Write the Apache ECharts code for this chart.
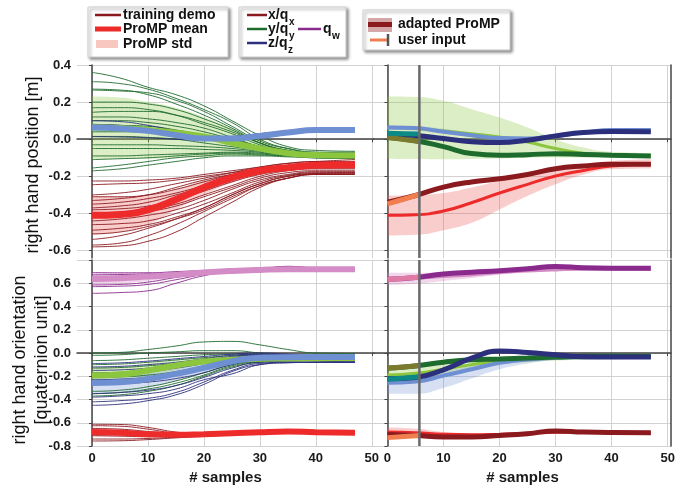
<!DOCTYPE html>
<html><head><meta charset="utf-8">
<script src="https://cdn.jsdelivr.net/npm/echarts@6/dist/echarts.min.js"></script>
<style>html,body{margin:0;padding:0;background:#fff}#c{width:687px;height:491px}</style>
</head><body><div id="c"></div>
<script>
// ---------- DATA ----------
const sampleX = [0, 5, 10, 15, 20, 25, 30, 35, 40, 47];
const xTicks = [0, 10, 20, 30, 40, 50];
const yTicksPos = [-0.6, -0.4, -0.2, 0.0, 0.2, 0.4];
const yTicksOri = [-0.8, -0.6, -0.4, -0.2, 0.0, 0.2, 0.4, 0.6, 0.8];
const yLabelsOri = [-0.8, -0.6, -0.4, -0.2, 0.0, 0.2, 0.4, 0.6];
const cutX = 5.7;
const userX = [0, 3, 5.7];

// position demos
const posXDemos = [
 [-0.225,-0.225,-0.22,-0.21,-0.19,-0.17,-0.15,-0.13,-0.12,-0.11],
 [-0.245,-0.24,-0.235,-0.22,-0.2,-0.18,-0.16,-0.145,-0.135,-0.13],
 [-0.30,-0.29,-0.27,-0.24,-0.21,-0.18,-0.15,-0.13,-0.12,-0.12],
 [-0.31,-0.31,-0.3,-0.27,-0.23,-0.19,-0.16,-0.14,-0.13,-0.13],
 [-0.33,-0.32,-0.3,-0.26,-0.22,-0.19,-0.165,-0.15,-0.14,-0.14],
 [-0.35,-0.34,-0.32,-0.29,-0.25,-0.21,-0.175,-0.155,-0.145,-0.145],
 [-0.37,-0.36,-0.34,-0.3,-0.26,-0.22,-0.18,-0.16,-0.15,-0.15],
 [-0.38,-0.375,-0.36,-0.33,-0.28,-0.23,-0.19,-0.165,-0.155,-0.155],
 [-0.40,-0.395,-0.38,-0.35,-0.30,-0.25,-0.2,-0.17,-0.16,-0.16],
 [-0.42,-0.41,-0.39,-0.36,-0.31,-0.26,-0.21,-0.18,-0.17,-0.17],
 [-0.44,-0.43,-0.41,-0.38,-0.33,-0.27,-0.22,-0.19,-0.175,-0.175],
 [-0.46,-0.455,-0.44,-0.4,-0.35,-0.29,-0.23,-0.195,-0.18,-0.18],
 [-0.49,-0.48,-0.46,-0.42,-0.37,-0.3,-0.24,-0.2,-0.185,-0.185],
 [-0.51,-0.5,-0.47,-0.43,-0.38,-0.31,-0.25,-0.21,-0.19,-0.19],
 [-0.54,-0.52,-0.48,-0.43,-0.37,-0.3,-0.24,-0.2,-0.185,-0.18],
 [-0.57,-0.56,-0.52,-0.46,-0.39,-0.32,-0.25,-0.21,-0.19,-0.19],
 [-0.58,-0.575,-0.55,-0.5,-0.42,-0.34,-0.26,-0.21,-0.19,-0.19]
];
const posYDemos = [
 [0.36,0.33,0.28,0.24,0.18,0.10,0.02,-0.04,-0.06,-0.065],
 [0.31,0.30,0.27,0.22,0.16,0.09,0.00,-0.05,-0.07,-0.07],
 [0.265,0.26,0.25,0.21,0.15,0.07,-0.01,-0.05,-0.07,-0.075],
 [0.27,0.265,0.24,0.19,0.13,0.06,-0.02,-0.06,-0.075,-0.08],
 [0.20,0.20,0.19,0.16,0.11,0.05,-0.02,-0.06,-0.08,-0.08],
 [0.17,0.17,0.16,0.13,0.08,0.03,-0.03,-0.07,-0.085,-0.09],
 [0.145,0.15,0.15,0.13,0.09,0.04,-0.02,-0.065,-0.08,-0.085],
 [0.12,0.12,0.11,0.09,0.06,0.01,-0.04,-0.075,-0.09,-0.09],
 [0.10,0.10,0.09,0.07,0.04,0.00,-0.04,-0.08,-0.09,-0.095],
 [0.08,0.075,0.07,0.05,0.02,-0.01,-0.05,-0.08,-0.095,-0.1],
 [0.04,0.04,0.035,0.02,0.0,-0.02,-0.05,-0.07,-0.08,-0.085],
 [0.015,0.015,0.01,0.0,-0.02,-0.04,-0.06,-0.08,-0.09,-0.09],
 [-0.03,-0.03,-0.03,-0.035,-0.04,-0.05,-0.065,-0.08,-0.09,-0.09],
 [-0.05,-0.05,-0.05,-0.05,-0.055,-0.06,-0.07,-0.085,-0.095,-0.1],
 [-0.09,-0.09,-0.085,-0.08,-0.075,-0.07,-0.075,-0.085,-0.095,-0.1],
 [-0.11,-0.105,-0.1,-0.09,-0.08,-0.075,-0.08,-0.09,-0.1,-0.1],
 [-0.155,-0.14,-0.12,-0.1,-0.09,-0.08,-0.085,-0.09,-0.1,-0.105],
 [-0.17,-0.16,-0.14,-0.12,-0.1,-0.09,-0.09,-0.095,-0.1,-0.105]
];
const posZDemos = [
 [0.10,0.095,0.075,0.045,0.02,0.015,0.025,0.04,0.05,0.05],
 [0.014,0.012,0.008,0.0,-0.005,-0.002,0.01,0.03,0.045,0.045],
 [0.07,0.065,0.05,0.03,0.012,0.015,0.03,0.045,0.055,0.055],
 [0.055,0.05,0.04,0.02,0.0,0.0,0.012,0.03,0.045,0.048],
 [0.08,0.075,0.06,0.035,0.015,0.012,0.022,0.038,0.052,0.058]
];
const posXMean = [-0.41,-0.405,-0.38,-0.325,-0.26,-0.207,-0.17,-0.153,-0.14,-0.137];
const posXStdUp = [-0.305,-0.31,-0.3,-0.27,-0.22,-0.18,-0.15,-0.14,-0.13,-0.125];
const posXStdLo = [-0.515,-0.5,-0.46,-0.38,-0.3,-0.235,-0.19,-0.17,-0.155,-0.15];
const posYMean = [0.065,0.06,0.05,0.035,0.015,-0.02,-0.05,-0.075,-0.085,-0.088];
const posYStdUp = [0.23,0.225,0.2,0.17,0.12,0.06,0.0,-0.05,-0.07,-0.075];
const posYStdLo = [-0.11,-0.105,-0.105,-0.1,-0.095,-0.09,-0.09,-0.095,-0.1,-0.1];
const posZMean = [0.063,0.058,0.045,0.022,0.004,0.004,0.018,0.036,0.05,0.05];
const posZStdUp = [0.075,0.07,0.056,0.032,0.013,0.012,0.025,0.042,0.055,0.055];
const posZStdLo = [0.051,0.046,0.034,0.012,-0.005,-0.004,0.011,0.03,0.045,0.045];

// position, adapted (right)
const rPosXMean = [-0.41,-0.407,-0.387,-0.342,-0.29,-0.243,-0.198,-0.168,-0.144,-0.135];
const rPosXStdUp = [-0.303,-0.3,-0.29,-0.26,-0.225,-0.195,-0.162,-0.135,-0.117,-0.108];
const rPosXStdLo = [-0.519,-0.515,-0.49,-0.45,-0.378,-0.306,-0.243,-0.19,-0.162,-0.158];
const rPosYMean = [0.063,0.058,0.045,0.03,0.012,-0.015,-0.05,-0.075,-0.085,-0.088];
const rPosYStdUp = [0.23,0.228,0.207,0.162,0.117,0.063,0.0,-0.045,-0.068,-0.075];
const rPosYStdLo = [-0.105,-0.107,-0.108,-0.106,-0.104,-0.1,-0.099,-0.099,-0.1,-0.1];
const rPosZMean = [0.063,0.06,0.04,0.022,0.006,0.004,0.018,0.036,0.05,0.05];
const adaptPosX = [-0.339,-0.303,-0.258,-0.23,-0.213,-0.19,-0.159,-0.144,-0.135,-0.135];
const adaptPosY = [0.009,-0.008,-0.04,-0.077,-0.086,-0.083,-0.078,-0.082,-0.086,-0.09];
const adaptPosZ = [0.029,0.02,0.004,-0.013,-0.018,-0.005,0.018,0.036,0.041,0.04];
const userPosX = [-0.348,-0.322,-0.297];
const userPosY = [0.011,-0.001,-0.012];
const userPosZ = [0.032,0.03,0.028];

// orientation demos
const oriXDemos = [
 [-0.613,-0.615,-0.64,-0.68,-0.695,-0.69,-0.68,-0.67,-0.675,-0.68],
 [-0.625,-0.63,-0.655,-0.69,-0.7,-0.695,-0.685,-0.675,-0.68,-0.685],
 [-0.65,-0.655,-0.675,-0.695,-0.7,-0.695,-0.685,-0.672,-0.68,-0.683],
 [-0.68,-0.685,-0.695,-0.705,-0.705,-0.698,-0.688,-0.676,-0.682,-0.686],
 [-0.71,-0.715,-0.72,-0.72,-0.712,-0.7,-0.69,-0.678,-0.683,-0.687],
 [-0.74,-0.74,-0.735,-0.725,-0.715,-0.703,-0.69,-0.68,-0.684,-0.688],
 [-0.757,-0.755,-0.745,-0.73,-0.717,-0.705,-0.692,-0.68,-0.685,-0.69]
];
const oriYDemos = [
 [0.0,0.005,0.03,0.06,0.095,0.1,0.07,0.03,0.0,-0.005],
 [-0.02,-0.015,0.0,0.01,0.02,0.02,0.0,-0.02,-0.03,-0.03],
 [-0.065,-0.06,-0.045,-0.03,-0.015,-0.01,-0.02,-0.03,-0.04,-0.04],
 [-0.1,-0.095,-0.08,-0.06,-0.04,-0.025,-0.03,-0.04,-0.05,-0.05],
 [-0.13,-0.125,-0.11,-0.09,-0.06,-0.04,-0.04,-0.045,-0.05,-0.05],
 [-0.17,-0.165,-0.15,-0.12,-0.08,-0.05,-0.045,-0.05,-0.055,-0.055],
 [-0.21,-0.205,-0.19,-0.16,-0.11,-0.065,-0.05,-0.05,-0.055,-0.055],
 [-0.33,-0.32,-0.29,-0.24,-0.17,-0.1,-0.07,-0.06,-0.06,-0.06],
 [-0.35,-0.34,-0.31,-0.26,-0.19,-0.11,-0.075,-0.065,-0.06,-0.06],
 [-0.37,-0.36,-0.33,-0.28,-0.2,-0.12,-0.08,-0.065,-0.06,-0.06]
];
const oriZDemos = [
 [-0.09,-0.085,-0.07,-0.05,-0.03,-0.01,0.0,-0.01,-0.02,-0.025],
 [-0.12,-0.115,-0.1,-0.08,-0.05,-0.02,-0.01,-0.015,-0.025,-0.03],
 [-0.15,-0.145,-0.13,-0.1,-0.07,-0.03,-0.015,-0.02,-0.03,-0.035],
 [-0.19,-0.18,-0.16,-0.13,-0.09,-0.04,-0.02,-0.025,-0.035,-0.04],
 [-0.23,-0.225,-0.21,-0.18,-0.13,-0.07,-0.04,-0.04,-0.05,-0.055],
 [-0.27,-0.265,-0.25,-0.22,-0.17,-0.1,-0.06,-0.06,-0.07,-0.075],
 [-0.35,-0.34,-0.32,-0.28,-0.21,-0.13,-0.08,-0.075,-0.08,-0.08],
 [-0.38,-0.37,-0.35,-0.31,-0.23,-0.18,-0.1,-0.08,-0.08,-0.08],
 [-0.42,-0.41,-0.39,-0.34,-0.25,-0.15,-0.09,-0.08,-0.08,-0.08],
 [-0.45,-0.44,-0.41,-0.36,-0.27,-0.16,-0.1,-0.085,-0.08,-0.08]
];
const oriWDemos = [
 [0.692,0.69,0.69,0.70,0.71,0.715,0.72,0.735,0.725,0.72],
 [0.672,0.675,0.68,0.69,0.705,0.715,0.725,0.745,0.73,0.72],
 [0.657,0.66,0.665,0.68,0.70,0.712,0.722,0.74,0.728,0.722],
 [0.623,0.63,0.645,0.67,0.695,0.71,0.72,0.745,0.73,0.72],
 [0.585,0.59,0.61,0.65,0.685,0.705,0.72,0.74,0.728,0.72],
 [0.571,0.575,0.59,0.63,0.675,0.70,0.718,0.742,0.73,0.722],
 [0.513,0.52,0.535,0.6,0.665,0.7,0.715,0.735,0.728,0.72]
];
const oriXMean = [-0.679,-0.685,-0.698,-0.703,-0.698,-0.69,-0.681,-0.676,-0.681,-0.685];
const oriXStdUp = [-0.64,-0.65,-0.68,-0.69,-0.69,-0.683,-0.675,-0.67,-0.675,-0.68];
const oriXStdLo = [-0.72,-0.72,-0.715,-0.715,-0.705,-0.697,-0.688,-0.682,-0.687,-0.69];
const oriYMean = [-0.194,-0.185,-0.15,-0.107,-0.073,-0.058,-0.05,-0.047,-0.045,-0.044];
const oriYStdUp = [-0.12,-0.115,-0.09,-0.06,-0.04,-0.035,-0.035,-0.037,-0.037,-0.037];
const oriYStdLo = [-0.27,-0.26,-0.21,-0.15,-0.1,-0.08,-0.065,-0.057,-0.053,-0.051];
const oriZMean = [-0.257,-0.252,-0.223,-0.18,-0.128,-0.073,-0.041,-0.036,-0.035,-0.035];
const oriZStdUp = [-0.17,-0.165,-0.145,-0.12,-0.085,-0.05,-0.03,-0.027,-0.027,-0.027];
const oriZStdLo = [-0.345,-0.34,-0.3,-0.24,-0.17,-0.095,-0.052,-0.045,-0.043,-0.043];
const oriWMean = [0.637,0.643,0.657,0.672,0.692,0.706,0.715,0.72,0.72,0.72];
const oriWStdUp = [0.69,0.69,0.695,0.7,0.71,0.717,0.723,0.727,0.727,0.727];
const oriWStdLo = [0.585,0.595,0.62,0.645,0.673,0.695,0.707,0.713,0.713,0.713];

// orientation, adapted (right)
const rOriYMean = [-0.19,-0.175,-0.14,-0.1,-0.07,-0.055,-0.045,-0.04,-0.038,-0.036];
const rOriZMean = [-0.255,-0.245,-0.195,-0.14,-0.085,-0.055,-0.04,-0.036,-0.035,-0.035];
const rOriZStdUp = [-0.2,-0.195,-0.16,-0.11,-0.065,-0.04,-0.03,-0.028,-0.028,-0.028];
const rOriZStdLo = [-0.35,-0.35,-0.3,-0.22,-0.14,-0.09,-0.06,-0.05,-0.045,-0.045];
const adaptOriX = [-0.7,-0.71,-0.722,-0.722,-0.71,-0.694,-0.67,-0.68,-0.684,-0.685];
const adaptOriY = [-0.131,-0.112,-0.079,-0.058,-0.052,-0.044,-0.035,-0.029,-0.027,-0.027];
const adaptOriZ = [-0.222,-0.21,-0.145,-0.045,0.017,0.005,-0.015,-0.033,-0.035,-0.035];
const adaptOriW = [0.634,0.65,0.68,0.695,0.707,0.724,0.744,0.733,0.73,0.73];
const userOriX = [-0.728,-0.718,-0.71];
const userOriY = [-0.13,-0.12,-0.108];
const userOriZ = [-0.225,-0.215,-0.205];
const userOriW = [0.632,0.642,0.652];

// ---------- STYLE ----------
const C = {
  demoRed:'#8B1A1F', meanRed:'#EE2B2B', bandRed:'rgba(238,90,90,0.3)',
  demoGreen:'#1E6B2E', meanGreen:'#8CC63E', bandGreen:'rgba(140,198,62,0.3)',
  demoNavy:'#2B2F7C', meanBlue:'#6E8FD2', bandBlue:'rgba(110,143,210,0.28)',
  demoPurple:'#8A2A8C', meanPlum:'#D38CC5', bandPlum:'rgba(211,140,197,0.35)',
  uOrange:'#F07E4F', uOlive:'#7B7A2E', uTeal:'#0E8A86', uPink:'#E27AA6'
};
const FONT = 'Liberation Sans, Arial, sans-serif';
const SMOOTH = 0.5;

function pts(xs, vals){ return vals.map((v,i)=>[xs[i], v]); }
function line(g, xs, vals, color, width, z, opacity){
  return {type:'line', xAxisIndex:g, yAxisIndex:g, data:pts(xs, vals), smooth:SMOOTH,
    symbol:'none', showSymbol:false, silent:true, animation:false, z:z,
    lineStyle:{color:color, width:width, opacity: opacity==null?1:opacity}};
}
let bandId = 0;
// value first, sample second, so the stack runs on the y dimension
function ptsYX(vals){ return vals.map((v,i)=>[v, sampleX[i]]); }
function band(g, up, lo, color, z){
  const key = 'band' + (bandId++);
  return [
    {type:'line', xAxisIndex:g, yAxisIndex:g, data:ptsYX(lo), encode:{x:1, y:0}, stack:key, stackStrategy:'all',
     smooth:SMOOTH, symbol:'none', silent:true, animation:false, z:z, lineStyle:{opacity:0}},
    {type:'line', xAxisIndex:g, yAxisIndex:g, data:ptsYX(up.map((u,i)=>u-lo[i])), encode:{x:1, y:0}, stack:key, stackStrategy:'all',
     smooth:SMOOTH, symbol:'none', silent:true, animation:false, z:z, lineStyle:{opacity:0},
     areaStyle:{color:color, opacity:1}}
  ];
}
function vline(g, lo, hi){
  return {type:'line', xAxisIndex:g, yAxisIndex:g, data:[[cutX, lo],[cutX, hi]], symbol:'none', silent:true,
    animation:false, z:20, lineStyle:{color:'#6a6a6a', width:2.5}};
}

const series = [];
// grid 0: position demos
series.push(...band(0, posYStdUp, posYStdLo, C.bandGreen, 1));
series.push(...band(0, posXStdUp, posXStdLo, C.bandRed, 1));
series.push(...band(0, posZStdUp, posZStdLo, C.bandBlue, 1));
posYDemos.forEach(d=>series.push(line(0, sampleX, d, C.demoGreen, 0.9, 2)));
posXDemos.forEach(d=>series.push(line(0, sampleX, d, C.demoRed, 0.9, 2)));
posZDemos.forEach(d=>series.push(line(0, sampleX, d, C.demoNavy, 0.9, 2)));
series.push(line(0, sampleX, posYMean, C.meanGreen, 6, 3));
series.push(line(0, sampleX, posXMean, C.meanRed, 7, 3));
series.push(line(0, sampleX, posZMean, C.meanBlue, 6, 4));
// grid 1: position adapted
series.push(...band(1, rPosYStdUp, rPosYStdLo, C.bandGreen, 1));
series.push(...band(1, rPosXStdUp, rPosXStdLo, C.bandRed, 1));
series.push(...band(1, posZStdUp, posZStdLo, C.bandBlue, 1));
series.push(line(1, sampleX, rPosXMean, C.meanRed, 3, 3));
series.push(line(1, sampleX, rPosYMean, C.meanGreen, 3, 3));
series.push(line(1, sampleX, rPosZMean, C.meanBlue, 4, 3));
series.push(line(1, sampleX, adaptPosX, C.demoRed, 5, 4));
series.push(line(1, sampleX, adaptPosY, C.demoGreen, 5, 4));
series.push(line(1, sampleX, adaptPosZ, C.demoNavy, 5, 4));
series.push(line(1, userX, userPosX, C.uOrange, 5, 5));
series.push(line(1, userX, userPosY, C.uOlive, 5, 5));
series.push(line(1, userX, userPosZ, C.uTeal, 5, 5));
series.push(vline(1, -0.64, 0.4));
// grid 2: orientation demos
series.push(...band(2, oriWStdUp, oriWStdLo, C.bandPlum, 1));
series.push(...band(2, oriYStdUp, oriYStdLo, C.bandGreen, 1));
series.push(...band(2, oriZStdUp, oriZStdLo, C.bandBlue, 1));
series.push(...band(2, oriXStdUp, oriXStdLo, C.bandRed, 1));
oriWDemos.forEach(d=>series.push(line(2, sampleX, d, C.demoPurple, 0.9, 2)));
oriYDemos.forEach(d=>series.push(line(2, sampleX, d, C.demoGreen, 0.9, 2)));
oriZDemos.forEach(d=>series.push(line(2, sampleX, d, C.demoNavy, 0.9, 2)));
oriXDemos.forEach(d=>series.push(line(2, sampleX, d, C.demoRed, 0.9, 2)));
series.push(line(2, sampleX, oriWMean, C.meanPlum, 6, 3));
series.push(line(2, sampleX, oriYMean, C.meanGreen, 6, 3));
series.push(line(2, sampleX, oriZMean, C.meanBlue, 6, 4));
series.push(line(2, sampleX, oriXMean, C.meanRed, 6, 3));
// grid 3: orientation adapted
series.push(...band(3, oriWStdUp, oriWStdLo, C.bandPlum, 1));
series.push(...band(3, oriYStdUp, oriYStdLo, C.bandGreen, 1));
series.push(...band(3, rOriZStdUp, rOriZStdLo, C.bandBlue, 1));
series.push(...band(3, oriXStdUp, oriXStdLo, C.bandRed, 1));
series.push(line(3, sampleX, oriWMean, C.meanPlum, 3, 3));
series.push(line(3, sampleX, rOriYMean, C.meanGreen, 3, 3));
series.push(line(3, sampleX, rOriZMean, C.meanBlue, 4, 3));
series.push(line(3, sampleX, oriXMean, C.meanRed, 3, 3));
series.push(line(3, sampleX, adaptOriW, C.demoPurple, 5, 4));
series.push(line(3, sampleX, adaptOriY, C.demoGreen, 5, 4));
series.push(line(3, sampleX, adaptOriZ, C.demoNavy, 5, 4));
series.push(line(3, sampleX, adaptOriX, C.demoRed, 5, 4));
series.push(line(3, userX, userOriW, C.uPink, 5, 5));
series.push(line(3, userX, userOriY, C.uOlive, 5, 5));
series.push(line(3, userX, userOriZ, C.uTeal, 5, 5));
series.push(line(3, userX, userOriX, C.uOrange, 5, 5));
series.push(vline(3, -0.8, 0.8));

// ---------- AXES ----------
const axisLine = {show:true, lineStyle:{color:'#444', width:1.5}};
const splitLine = {show:true, lineStyle:{color:'#d2d2d2', width:1}};
const labelStyle = {color:'#1a1a1a', fontFamily:FONT, fontWeight:'bold', fontSize:13};
function xAx(g, min, max, showLabel){
  return {type:'value', gridIndex:g, min:min, max:max,
    axisLine:axisLine, splitLine:splitLine,
    axisTick:{show:true, customValues:xTicks, length:3, lineStyle:{color:'#444'}},
    axisLabel:Object.assign({show:showLabel, customValues:xTicks, margin:6}, labelStyle),
    name: showLabel ? '# samples' : '', nameLocation:'middle', nameGap:24,
    nameTextStyle:{color:'#1a1a1a', fontFamily:FONT, fontWeight:'bold', fontSize:15}};
}
function yAx(g, min, max, ticks, labels, showLabel){
  return {type:'value', gridIndex:g, min:min, max:max,
    axisLine:axisLine, splitLine:splitLine,
    axisTick:{show:true, customValues:ticks, length:3, lineStyle:{color:'#444'}},
    axisLabel:Object.assign({show:showLabel, customValues:labels, margin:6, formatter:v=>v.toFixed(1)}, labelStyle)};
}
function yBorder(g, min, max){
  return {type:'value', gridIndex:g, min:min, max:max, position:'right',
    axisLine:axisLine, axisTick:{show:false}, axisLabel:{show:false}, splitLine:{show:false}};
}

const option = {
  backgroundColor:'#fff',
  animation:false,
  grid:[
    {left:77, top:65, width:297, height:193},
    {left:374, top:65, width:297, height:193},
    {left:77, top:260, width:297, height:186},
    {left:374, top:260, width:297, height:186}
  ],
  xAxis:[
    xAx(0, -2.68, 50.4, false),
    xAx(1, -2.4, 50.6, false),
    xAx(2, -2.68, 50.4, true),
    xAx(3, -2.4, 50.6, true)
  ],
  yAxis:[
    yAx(0, -0.64, 0.4, yTicksPos, yTicksPos, true),
    yAx(1, -0.64, 0.4, yTicksPos, yTicksPos, false),
    yAx(2, -0.8, 0.8, yTicksOri, yLabelsOri, true),
    yAx(3, -0.8, 0.8, yTicksOri, yLabelsOri, false),
    yBorder(1, -0.64, 0.4),
    yBorder(3, -0.8, 0.8)
  ],
  series: series,
  graphic:[]
};

// ---------- LEGENDS & AXIS NAMES ----------
const G = option.graphic;
const shadow = {shadowBlur:3, shadowOffsetX:2, shadowOffsetY:2, shadowColor:'rgba(0,0,0,0.45)'};
function box(x,y,w,h){ G.push({type:'rect', shape:{x:x,y:y,width:w,height:h}, style:Object.assign({fill:'#fff', stroke:'#cfcfcf', lineWidth:1}, shadow), z:100}); }
function seg(x1,y1,x2,y2,color,w){ G.push({type:'line', shape:{x1:x1,y1:y1,x2:x2,y2:y2}, style:{stroke:color, lineWidth:w}, z:101}); }
function txt(x,y,t,size){ G.push({type:'text', x:x, y:y, style:{text:t, font:'bold '+(size||14)+'px '+FONT, fill:'#111', align:'left', verticalAlign:'middle'}, z:102}); }

box(88, 7, 140, 50);
seg(95, 15, 121, 15, C.demoRed, 2.5); txt(123, 15, 'training demo');
seg(95, 29, 121, 29, C.meanRed, 5); txt(123, 29, 'ProMP mean');
G.push({type:'rect', shape:{x:96, y:40, width:22, height:8}, style:{fill:'#F8C8C0'}, z:101}); txt(123, 44, 'ProMP std');

box(239, 7, 107, 50);
seg(247, 15, 267, 15, C.demoRed, 2.5); txt(268, 15, 'x/q'); txt(289, 22, 'x', 10);
seg(247, 29, 267, 29, C.demoGreen, 2.5); txt(268, 29, 'y/q'); txt(289, 36, 'y', 10);
seg(247, 43, 267, 43, C.demoNavy, 2.5); txt(268, 43, 'z/q'); txt(288, 50, 'z', 10);
seg(298, 29, 321, 29, C.demoPurple, 2.5); txt(323, 29, 'q'); txt(332, 36, 'w', 10);

box(363, 10, 147, 40);
G.push({type:'rect', shape:{x:368, y:18, width:24, height:14}, style:{fill:'#D4A8A8'}, z:101});
seg(368, 24.5, 392, 24.5, C.demoRed, 5); txt(398, 24, 'adapted ProMP');
seg(370, 40, 387, 40, C.uOrange, 3); seg(388, 34, 388, 46, '#555', 2.5); txt(398, 40, 'user input');

G.push({type:'text', x:33, y:165, rotation:Math.PI/2,
  style:{text:'right hand position [m]', font:'18px '+FONT, fill:'#111', align:'center', verticalAlign:'middle'}, z:102});
G.push({type:'text', x:31, y:360, rotation:Math.PI/2,
  style:{text:'right hand orientation\n[quaternion unit]', font:'18px '+FONT, fill:'#111', align:'center', verticalAlign:'middle', lineHeight:22}, z:102});

const chart = echarts.init(document.getElementById('c'), null, {renderer:'canvas'});
chart.setOption(option);
</script></body></html>
